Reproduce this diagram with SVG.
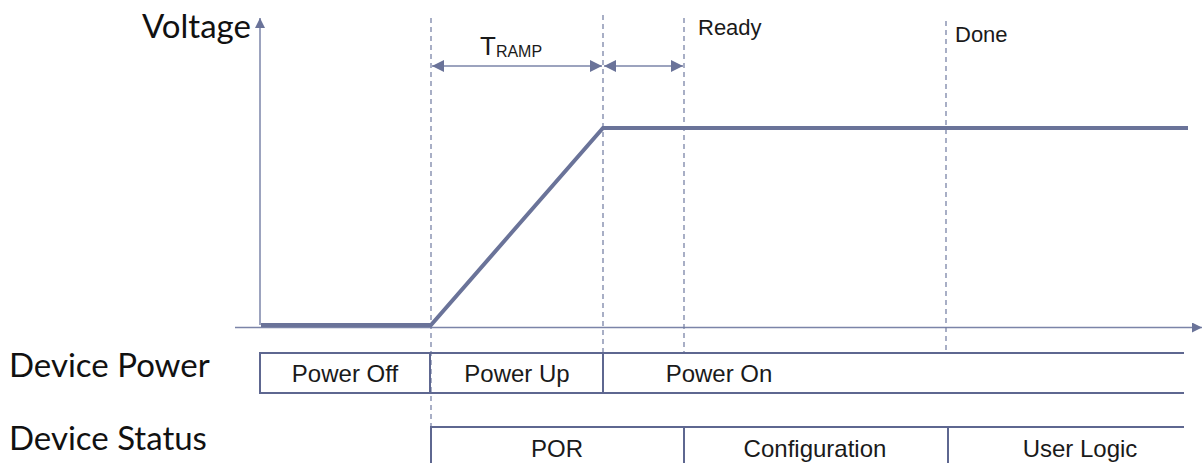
<svg xmlns="http://www.w3.org/2000/svg" width="1203" height="463" viewBox="0 0 1203 463">
<style>
.head{font-family:Lato,"Open Sans",sans-serif;font-size:33px;fill:#111}
.lbl{font-family:"Liberation Sans",Arial,sans-serif;font-size:24px;fill:#1a1a1a;text-anchor:middle}
.small{font-family:"Liberation Sans",Arial,sans-serif;font-size:22px;fill:#1a1a1a}
.axis{stroke:#7b84a8;stroke-width:1.5;fill:none}
.dash{stroke:#6f7aa0;stroke-width:1.2;stroke-dasharray:5,4;fill:none}
.box{stroke:#5e6790;stroke-width:2;fill:none}
.wave{stroke:#6a7399;stroke-width:4;fill:none;stroke-linejoin:miter}
.dim{stroke:#7b84a8;stroke-width:1.5;fill:none}
</style>
<defs>
<marker id="ah" viewBox="0 0 10 10" refX="10" refY="5" markerWidth="10" markerHeight="10" markerUnits="userSpaceOnUse" orient="auto-start-reverse">
<path d="M0,0 L10,5 L0,10 z" fill="#6a7399"/>
</marker>
<marker id="dh" viewBox="0 0 10 10" refX="10" refY="5" markerWidth="12" markerHeight="12" markerUnits="userSpaceOnUse" orient="auto-start-reverse">
<path d="M0,0 L10,5 L0,10 z" fill="#6a7399"/>
</marker>
</defs>
<g id="connectors">
<line class="axis" x1="260" y1="325" x2="260" y2="18" marker-end="url(#ah)"/>
<line class="axis" x1="235" y1="327.5" x2="1202" y2="327.5" marker-end="url(#ah)"/>
<line class="dash" x1="431" y1="18" x2="431" y2="463"/>
<line class="dash" x1="603" y1="15" x2="603" y2="352"/>
<line class="dash" x1="684" y1="18" x2="684" y2="352"/>
<line class="dash" x1="946" y1="21" x2="946" y2="352"/>
<line class="dim" x1="432" y1="66" x2="602" y2="66" marker-start="url(#dh)" marker-end="url(#dh)"/>
<line class="dim" x1="604" y1="66" x2="683" y2="66" marker-start="url(#dh)" marker-end="url(#dh)"/>
<polyline class="wave" points="261,325 431,325 603,128 1188,128"/>
</g>
<g id="voltage-label"><text class="head" x="142" y="38">Voltage</text></g>
<g id="tramp"><text x="480" y="55" font-family="Liberation Sans,Arial,sans-serif" font-size="26" fill="#1a1a1a">T<tspan font-size="16" dy="2">RAMP</tspan></text></g>
<g id="ready"><text class="small" x="698" y="35">Ready</text></g>
<g id="done"><text class="small" x="955" y="42">Done</text></g>
<g id="device-power-label"><text class="head" x="9" y="377">Device Power</text></g>
<g id="device-status-label"><text class="head" x="9" y="450">Device Status</text></g>
<g id="power-row">
<path class="box" d="M1184,353 H260 V393 H1184"/>
<line class="box" x1="430" y1="353" x2="430" y2="393"/>
<line class="box" x1="603" y1="353" x2="603" y2="393"/>
<text class="lbl" x="345" y="382">Power Off</text>
<text class="lbl" x="517" y="382">Power Up</text>
<text class="lbl" x="719" y="382">Power On</text>
</g>
<g id="status-row">
<path class="box" d="M1184,427 H431 V463"/>
<line class="box" x1="684" y1="427" x2="684" y2="463"/>
<line class="box" x1="948" y1="427" x2="948" y2="463"/>
<text class="lbl" x="557" y="457">POR</text>
<text class="lbl" x="815" y="457">Configuration</text>
<text class="lbl" x="1080" y="457">User Logic</text>
</g>
</svg>
